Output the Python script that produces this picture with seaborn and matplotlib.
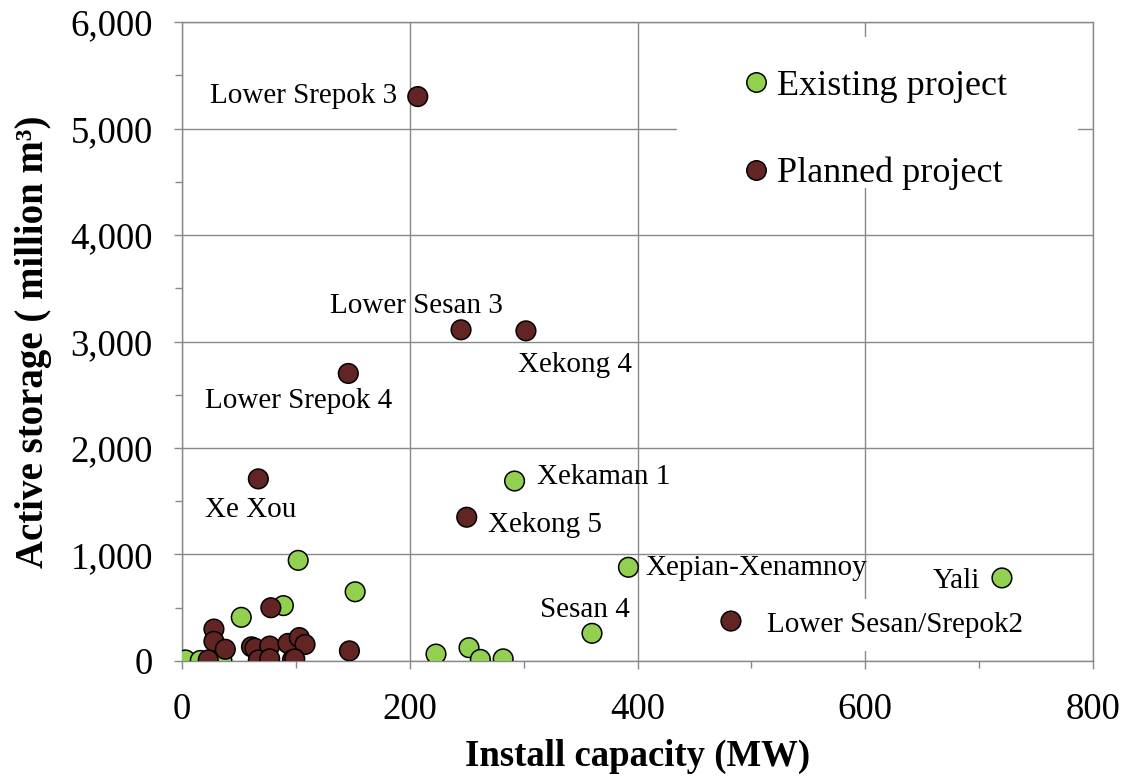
import matplotlib
matplotlib.use("Agg")
import matplotlib.pyplot as plt
from matplotlib.patches import Rectangle
from matplotlib.ticker import MultipleLocator, FuncFormatter
import pandas as pd
import seaborn as sns

# ---- data -------------------------------------------------------------
existing_names = ["Xekaman 1", "Xepian-Xenamnoy", "Sesan 4", "Yali",
                  "", "", "", "", "", "", "", "", "", "", ""]
existing_mw = [292, 392, 360, 720, 102, 152, 89, 52, 3, 16, 35, 223, 252, 262, 282]
existing_storage = [1690, 880, 260, 780, 945, 650, 520, 410, 10, 5, 5, 65, 125, 15, 20]

planned_names = ["Lower Srepok 3", "Lower Sesan 3", "Xekong 4", "Lower Srepok 4",
                 "Xe Xou", "Xekong 5", "Lower Sesan/Srepok2",
                 "", "", "", "", "", "", "", "", "", "", "", "", "", "", "", ""]
planned_mw = [207, 245, 302, 146, 67, 250, 482,
              78, 28, 28, 38, 23, 61, 64, 77, 67, 77, 93, 103, 108, 97, 99, 147]
planned_storage = [5300, 3110, 3100, 2700, 1710, 1350, 375,
                   500, 300, 185, 110, 10, 133, 120, 140, 10, 20, 165, 220, 155, 12, 20, 95]

status_labels = ["Existing project", "Planned project"]

# ---- styling ----------------------------------------------------------
PALETTE = {"Existing project": "#92D050", "Planned project": "#632523"}
GRID = "#898989"
SERIF = "Liberation Serif"

# label placement relative to each marker: (dx px, dy px, horizontal alignment)
LABEL_OFFSETS = {
    "Lower Srepok 3": (-21, 1, "right"),
    "Lower Sesan 3": (-45, 24, "center"),
    "Xekong 4": (49, -34, "center"),
    "Lower Srepok 4": (-50, -28, "center"),
    "Xe Xou": (-8, -31, "center"),
    "Xekaman 1": (22, 4, "left"),
    "Xekong 5": (21, -8, "left"),
    "Xepian-Xenamnoy": (17, -1, "left"),
    "Sesan 4": (-7, 23, "center"),
    "Yali": (-22, -3, "right"),
    "Lower Sesan/Srepok2": (36, -4, "left"),
}

df = pd.DataFrame({
    "name": existing_names + planned_names,
    "mw": existing_mw + planned_mw,
    "storage": existing_storage + planned_storage,
    "status": [status_labels[0]] * len(existing_mw) + [status_labels[1]] * len(planned_mw),
})

sns.set_theme(style="white")
plt.rcParams["font.family"] = [SERIF, "DejaVu Serif"]
plt.rcParams["text.color"] = "black"
plt.rcParams["axes.labelcolor"] = "black"

fig = plt.figure(figsize=(11.3, 7.78), dpi=100)
ax = fig.add_axes([0.1611, 0.1504, 0.8062, 0.8213])

sns.scatterplot(data=df, x="mw", y="storage", hue="status", palette=PALETTE,
                hue_order=status_labels, s=200, edgecolor="black", linewidth=1.1,
                ax=ax, zorder=4, legend=True)

ax.set_xlim(0, 800)
ax.set_ylim(0, 6000)
ax.xaxis.set_major_locator(MultipleLocator(200))
ax.xaxis.set_minor_locator(MultipleLocator(100))
ax.yaxis.set_major_locator(MultipleLocator(1000))
ax.yaxis.set_minor_locator(MultipleLocator(500))
ax.yaxis.set_major_formatter(FuncFormatter(lambda v, p: f"{int(v):,}"))
ax.xaxis.set_major_formatter(FuncFormatter(lambda v, p: f"{int(v)}"))

ax.grid(True, which="major", color=GRID, linewidth=1.0)
ax.set_axisbelow(True)
for sp in ax.spines.values():
    sp.set_color(GRID)
    sp.set_linewidth(1.0)

ax.tick_params(axis="both", which="both", direction="out", color=GRID,
               labelsize=26.5, labelcolor="black")
ax.tick_params(which="major", length=6, width=1.0)
ax.tick_params(which="minor", length=5, width=1.0)
ax.tick_params(axis="y", which="both", left=True, pad=15)
ax.tick_params(axis="x", which="both", bottom=True, pad=17)

ax.set_xlabel("Install capacity (MW)", fontsize=26.5, fontweight="bold", labelpad=8)
ax.set_ylabel("Active storage ( million m³)", fontsize=28, fontweight="bold", labelpad=13)

# white panel behind the legend
ax.add_patch(Rectangle((0.543, 0.740), 0.4405, 0.2365, transform=ax.transAxes,
                       facecolor="white", edgecolor="none", zorder=2.5))

handles, labels = ax.get_legend_handles_labels()
for h in handles:
    h.set_markersize(14)
    h.set_markeredgecolor("black")
    h.set_markeredgewidth(1.1)
leg = ax.legend(handles, labels, loc="center left", bbox_to_anchor=(0.618, 0.831),
                frameon=False, fontsize=26, handlelength=0.6, handletextpad=0.28,
                labelspacing=1.5, borderpad=0, borderaxespad=0)
for t in leg.get_texts():
    t.set_color("black")

# project names
for _, row in df[df["name"] != ""].iterrows():
    dx, dy, ha = LABEL_OFFSETS[row["name"]]
    kw = {}
    if row["name"] == "Lower Sesan/Srepok2":
        kw["bbox"] = dict(boxstyle="square,pad=0.45", facecolor="white", edgecolor="none")
    ax.annotate(row["name"], (row["mw"], row["storage"]), xytext=(dx, dy),
                textcoords="offset pixels", ha=ha, va="center", fontsize=21,
                color="black", zorder=3, **kw)

fig.savefig("out.png", dpi=100)
